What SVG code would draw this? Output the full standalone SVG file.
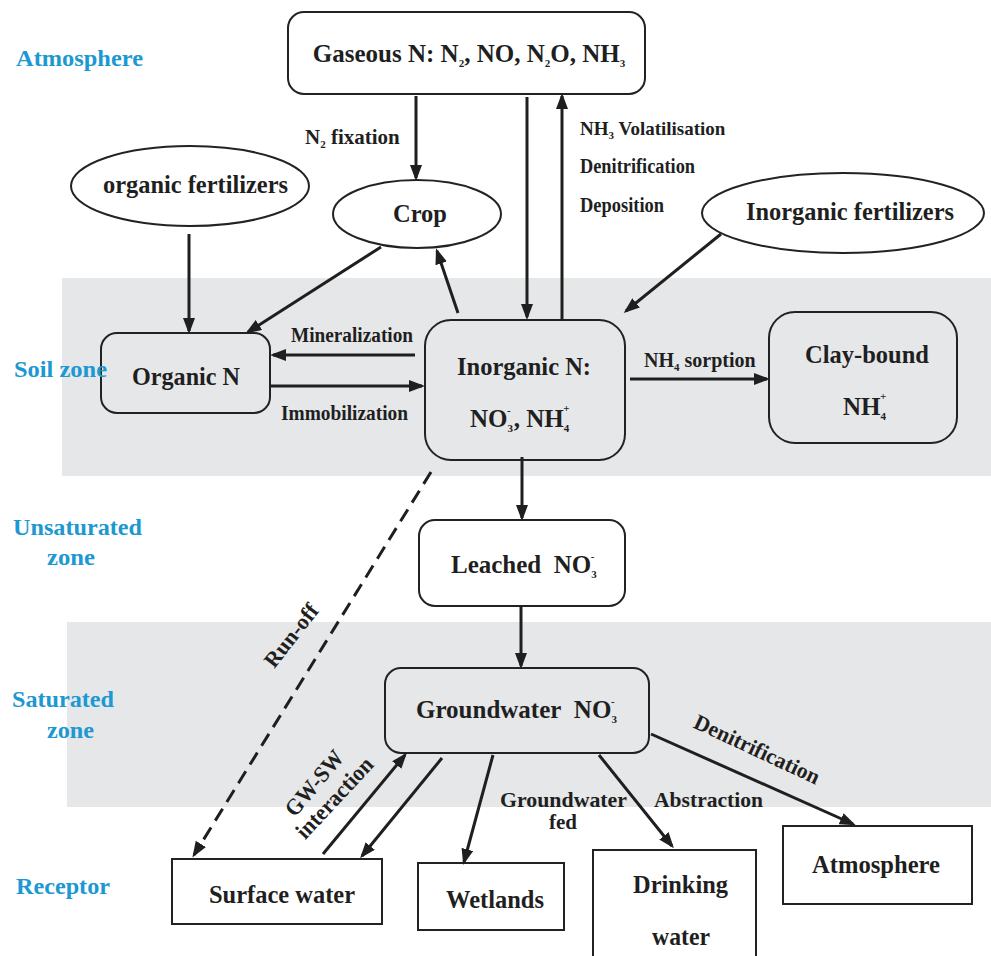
<svg xmlns="http://www.w3.org/2000/svg" width="991" height="956" viewBox="0 0 991 956">
<defs>
<marker id="ah" viewBox="0 0 16 12" refX="13" refY="6" markerWidth="16" markerHeight="12" markerUnits="userSpaceOnUse" orient="auto">
<path d="M0,0 L16,6 L0,12 z" fill="#1f1f1f"/>
</marker>
</defs>
<style>
.band{fill:#e6e7e8}
.zone{font-weight:bold;font-size:24px;fill:#1c98d2}
.box{fill:#e6e7e8;stroke:#222;stroke-width:2}
.wbox{fill:#fff;stroke:#222;stroke-width:2}
.t{font-weight:bold;font-size:25px;fill:#1f1f1f}
.l{font-weight:bold;font-size:20px;fill:#1f1f1f}
.s{font-size:11px}
.a{stroke:#1f1f1f;stroke-width:3;fill:none;marker-end:url(#ah)}
.d{stroke-dasharray:14 8}
</style>
<rect x="0" y="0" width="991" height="956" fill="#fff"/>
<rect class="band" x="62" y="278" width="929" height="198"/>
<rect class="band" x="67" y="622" width="924" height="185"/>

<g id="nodes" font-family="Liberation Serif, serif">
<g id="gaseous">
<rect class="wbox" x="288" y="12" width="357" height="82" rx="16"/>
<text class="t" x="469" y="62" text-anchor="middle">Gaseous N: N<tspan class="s" dy="5">2</tspan><tspan dy="-5">, NO, N</tspan><tspan class="s" dy="5">2</tspan><tspan dy="-5">O, NH</tspan><tspan class="s" dy="5">3</tspan></text>
</g>
<g id="organic-fertilizers">
<ellipse cx="190" cy="186" rx="119" ry="40" fill="#fff" stroke="#222" stroke-width="2"/>
<text class="t" x="103" y="193" textLength="185" lengthAdjust="spacingAndGlyphs">organic fertilizers</text>
</g>
<g id="crop">
<ellipse cx="417" cy="214" rx="84" ry="34" fill="#fff" stroke="#222" stroke-width="2"/>
<text class="t" x="393" y="222" textLength="54" lengthAdjust="spacingAndGlyphs">Crop</text>
</g>
<g id="inorganic-fertilizers">
<ellipse cx="843" cy="213" rx="141" ry="40" fill="#fff" stroke="#222" stroke-width="2"/>
<text class="t" x="746" y="220" textLength="208" lengthAdjust="spacingAndGlyphs">Inorganic fertilizers</text>
</g>
<g id="organic-n">
<rect class="box" x="101" y="333" width="169" height="80" rx="16"/>
<text class="t" x="132" y="385" textLength="108" lengthAdjust="spacingAndGlyphs">Organic N</text>
</g>
<g id="inorganic-n">
<rect class="box" x="425" y="320" width="200" height="140" rx="26"/>
<text class="t" x="457" y="375" textLength="134" lengthAdjust="spacingAndGlyphs">Inorganic N:</text>
<text class="t" x="470" y="427">NO<tspan class="s" dy="5">3</tspan><tspan class="s" dx="-6" dy="-18">-</tspan><tspan dx="3" dy="13">, NH</tspan><tspan class="s" dy="5">4</tspan><tspan class="s" dx="-6" dy="-20">+</tspan></text>
</g>
<g id="clay-bound">
<rect class="box" x="769" y="312" width="188" height="131" rx="26"/>
<text class="t" x="805" y="363" textLength="124" lengthAdjust="spacingAndGlyphs">Clay-bound</text>
<text class="t" x="843" y="415">NH<tspan class="s" dy="5">4</tspan><tspan class="s" dx="-6" dy="-20">+</tspan></text>
</g>
<g id="leached">
<rect class="wbox" x="419" y="520" width="206" height="86" rx="16"/>
<text class="t" x="451" y="573">Leached&#160; NO<tspan class="s" dy="5">3</tspan><tspan class="s" dx="-6" dy="-18">-</tspan></text>
</g>
<g id="groundwater">
<rect class="box" x="385" y="668" width="264" height="85" rx="16"/>
<text class="t" x="416" y="718">Groundwater&#160; NO<tspan class="s" dy="5">3</tspan><tspan class="s" dx="-6" dy="-18">-</tspan></text>
</g>
<g id="surface-water">
<rect class="wbox" x="172" y="859" width="210" height="65"/>
<text class="t" x="209" y="903" textLength="146" lengthAdjust="spacingAndGlyphs">Surface water</text>
</g>
<g id="wetlands">
<rect class="wbox" x="418" y="863" width="146" height="67"/>
<text class="t" x="446" y="908" textLength="98" lengthAdjust="spacingAndGlyphs">Wetlands</text>
</g>
<g id="drinking-water">
<rect class="wbox" x="593" y="850" width="163" height="110"/>
<text class="t" x="633" y="893" textLength="95" lengthAdjust="spacingAndGlyphs">Drinking</text>
<text class="t" x="652" y="945" textLength="58" lengthAdjust="spacingAndGlyphs">water</text>
</g>
<g id="atmosphere-receptor">
<rect class="wbox" x="783" y="826" width="189" height="78"/>
<text class="t" x="812" y="873" textLength="128" lengthAdjust="spacingAndGlyphs">Atmosphere</text>
</g>
</g>

<g id="zone-labels" font-family="Liberation Serif, serif">
<text class="zone" x="16" y="66" textLength="127" lengthAdjust="spacingAndGlyphs">Atmosphere</text>
<text class="zone" x="14" y="377" textLength="93" lengthAdjust="spacingAndGlyphs">Soil zone</text>
<text class="zone" x="13" y="535" textLength="129" lengthAdjust="spacingAndGlyphs">Unsaturated</text>
<text class="zone" x="47" y="565" textLength="48" lengthAdjust="spacingAndGlyphs">zone</text>
<text class="zone" x="12" y="707" textLength="102" lengthAdjust="spacingAndGlyphs">Saturated</text>
<text class="zone" x="47" y="738" textLength="47" lengthAdjust="spacingAndGlyphs">zone</text>
<text class="zone" x="16" y="894" textLength="94" lengthAdjust="spacingAndGlyphs">Receptor</text>
</g>

<g id="connectors">
<line class="a" x1="416" y1="96" x2="416" y2="178"/>
<line class="a" x1="527" y1="97" x2="527" y2="317"/>
<line class="a" x1="562" y1="320" x2="562" y2="96"/>
<line class="a" x1="189" y1="234" x2="189" y2="331"/>
<line class="a" x1="381" y1="247" x2="248" y2="332"/>
<line class="a" x1="458" y1="313" x2="437" y2="251"/>
<line class="a" x1="721" y1="234" x2="626" y2="311"/>
<line class="a" x1="415" y1="355" x2="273" y2="355"/>
<line class="a" x1="270" y1="386" x2="422" y2="386"/>
<line class="a" x1="630" y1="379" x2="767" y2="379"/>
<line class="a" x1="522" y1="457" x2="522" y2="518"/>
<line class="a" x1="521" y1="606" x2="521" y2="666"/>
<line class="a d" x1="431" y1="472" x2="194" y2="855"/>
<line class="a" x1="323" y1="854" x2="405" y2="755"/>
<line class="a" x1="442" y1="758" x2="362" y2="856"/>
<line class="a" x1="493" y1="755" x2="464" y2="862"/>
<line class="a" x1="599" y1="755" x2="672" y2="846"/>
<line class="a" x1="651" y1="734" x2="853" y2="824"/>
</g>

<g id="edge-labels" font-family="Liberation Serif, serif">
<text class="l" x="305" y="144" style="font-size:21px">N<tspan class="s" dy="4">2</tspan><tspan dy="-4"> fixation</tspan></text>
<text class="l" x="580" y="135" style="font-size:19px">NH<tspan class="s" dy="4">3</tspan><tspan dy="-4"> Volatilisation</tspan></text>
<text class="l" x="580" y="173" textLength="115" lengthAdjust="spacingAndGlyphs">Denitrification</text>
<text class="l" x="580" y="212" textLength="84" lengthAdjust="spacingAndGlyphs">Deposition</text>
<text class="l" x="291" y="342" textLength="122" lengthAdjust="spacingAndGlyphs">Mineralization</text>
<text class="l" x="281" y="420" textLength="127" lengthAdjust="spacingAndGlyphs">Immobilization</text>
<text class="l" x="644" y="367">NH<tspan class="s" dy="4">4</tspan><tspan dy="-4"> sorption</tspan></text>
<text class="l" x="297" y="640" text-anchor="middle" transform="rotate(-52 297 640)" style="font-size:22px" textLength="74" lengthAdjust="spacingAndGlyphs">Run-off</text>
<text class="l" x="320" y="788" text-anchor="middle" transform="rotate(-50 320 788)" style="font-size:23px" textLength="78" lengthAdjust="spacingAndGlyphs">GW-SW</text>
<text class="l" x="340" y="803" text-anchor="middle" transform="rotate(-47 340 803)" style="font-size:23px" textLength="102" lengthAdjust="spacingAndGlyphs">interaction</text>
<text class="l" x="500" y="807" style="font-size:21px" textLength="127" lengthAdjust="spacingAndGlyphs">Groundwater</text>
<text class="l" x="549" y="829" style="font-size:21px" textLength="28" lengthAdjust="spacingAndGlyphs">fed</text>
<text class="l" x="654" y="807" style="font-size:21px" textLength="109" lengthAdjust="spacingAndGlyphs">Abstraction</text>
<text class="l" x="754" y="756" text-anchor="middle" style="font-size:22px" transform="rotate(25 754 756)" textLength="136" lengthAdjust="spacingAndGlyphs">Denitrification</text>
</g>
</svg>
